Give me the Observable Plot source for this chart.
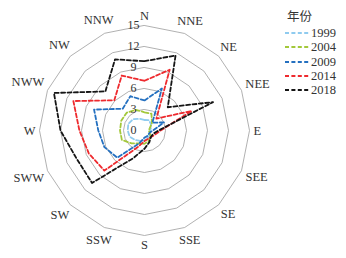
<!DOCTYPE html>
<html><head><meta charset="utf-8">
<script src="https://cdn.jsdelivr.net/npm/d3@7"></script>
<script src="https://cdn.jsdelivr.net/npm/@observablehq/plot@0.6"></script>
<style>
body{margin:0;background:#fff;}
#wrap{position:relative;width:346px;height:258px;font-family:"Liberation Serif","Times New Roman","DejaVu Serif",serif;overflow:hidden;}
#chart{position:absolute;left:0;top:0;}
#chart svg text{font-family:"Liberation Serif","Times New Roman","DejaVu Serif",serif !important;}
.lg{position:absolute;font-size:12.5px;line-height:14px;color:#333;white-space:nowrap;display:flex;align-items:center;}
.lg svg{margin-right:2px;}
.lgt{position:absolute;font-family:"Noto Sans CJK SC",sans-serif;font-size:12.5px;line-height:14px;color:#333;}
</style></head><body>
<div id="wrap"><div id="chart"></div></div>
<script>
const directions = ["N","NNE","NE","NEE","E","SEE","SE","SSE","S","SSW","SW","SWW","W","NWW","NW","NNW"];
const years = ["1999","2004","2009","2014","2018"];
const v1999 = [1.5, 1.6, 1.3, 1.0, 0.8, 0.9, 1.0, 1.2, 1.4, 1.6, 1.9, 2.3, 2.4, 2.5, 2.3, 1.8];
const v2004 = [2.6, 2.6, 1.5, 0.8, 0.6, 0.8, 1.2, 1.6, 1.9, 2.0, 2.6, 3.5, 3.5, 3.6, 3.6, 3.2];
const v2009 = [4.3, 6.5, 1.6, 3.0, 1.2, 0.8, 0.8, 0.9, 1.0, 2.0, 5.5, 6.2, 6.6, 7.8, 4.4, 5.3];
const v2014 = [7.1, 9.4, 2.4, 7.3, 2.3, 1.6, 1.3, 1.3, 1.5, 2.6, 8.1, 8.6, 9.3, 11.0, 6.1, 8.5];
const v2018 = [9.9, 11.6, 4.7, 10.6, 2.0, 1.3, 1.3, 1.8, 2.6, 4.3, 10.6, 10.5, 12.0, 14.0, 7.9, 11.0];
const ringTicks = [0, 3, 6, 9, 12, 15];
const colors = ["#8fcbef", "#a3c83a", "#2470c0", "#ee2a2e", "#151515"];
const legendTitle = "年份";

const FONT = "'Liberation Serif', 'Times New Roman', 'DejaVu Serif', serif";
const W = 346, H = 258, cx = 144, cy = 130, k = 7; // px per unit
const values = [v1999, v2004, v2009, v2014, v2018];
const ang = i => i * 2 * Math.PI / directions.length;

const seriesData = [];
years.forEach((yr, s) => values[s].forEach((v, i) => seriesData.push({year: yr, dir: directions[i], v, a: ang(i)})));

const ringData = [];
ringTicks.filter(t => t > 0).forEach(t => directions.forEach((d, i) => ringData.push({ring: t, a: ang(i)})));

const ctx = document.createElement("canvas").getContext("2d");
ctx.font = "12.5px " + FONT;
const labR = 109;
const dirData = directions.map((d, i) => {
  const a = ang(i), w = ctx.measureText(d).width, h = 11;
  const off = (w / 2) * Math.abs(Math.sin(a)) + (h / 2) * Math.abs(Math.cos(a));
  const r = (labR + off) / k;
  return {d, x: r * Math.sin(a), y: r * Math.cos(a)};
});

const chart = Plot.plot({
  width: W, height: H, margin: 0,
  x: {domain: [-cx / k, (W - cx) / k], axis: null},
  y: {domain: [-(H - cy) / k, cy / k], axis: null},
  color: {domain: years, range: colors},
  style: {fontFamily: FONT, background: "white"},
  marks: [
    Plot.line(ringData, {x: d => d.ring * Math.sin(d.a), y: d => d.ring * Math.cos(d.a), z: "ring",
      curve: "linear-closed", stroke: "#9d9d9d", strokeWidth: 0.8}),
    Plot.line(seriesData, {x: d => d.v * Math.sin(d.a), y: d => d.v * Math.cos(d.a), z: "year", stroke: "year",
      curve: "linear-closed", strokeWidth: 1.8, strokeDasharray: "4,2.4"}),
    Plot.text(ringTicks, {x: 0, y: d => d, text: d => String(d), dx: -11, fontSize: 12, fill: "#333", fontFamily: FONT}),
    Plot.text(dirData, {x: "x", y: "y", text: "d", fontSize: 12.5, fill: "#333", fontFamily: FONT})
  ]
});
document.getElementById("chart").appendChild(chart);

const wrap = document.getElementById("wrap");
const t = document.createElement("div");
t.className = "lgt"; t.textContent = legendTitle;
t.style.left = "287px"; t.style.top = (17 - 8) + "px";
wrap.appendChild(t);
years.forEach((yr, i) => {
  const row = document.createElement("div");
  row.className = "lg";
  row.style.left = "285px";
  row.style.top = (33 + i * 14.3 - 7) + "px";
  row.innerHTML = `<svg width="24" height="6"><line x1="0" y1="3" x2="24" y2="3" stroke="${colors[i]}" stroke-width="1.8" stroke-dasharray="4,2.4"/></svg><span>${yr}</span>`;
  wrap.appendChild(row);
});
</script>
</body></html>
